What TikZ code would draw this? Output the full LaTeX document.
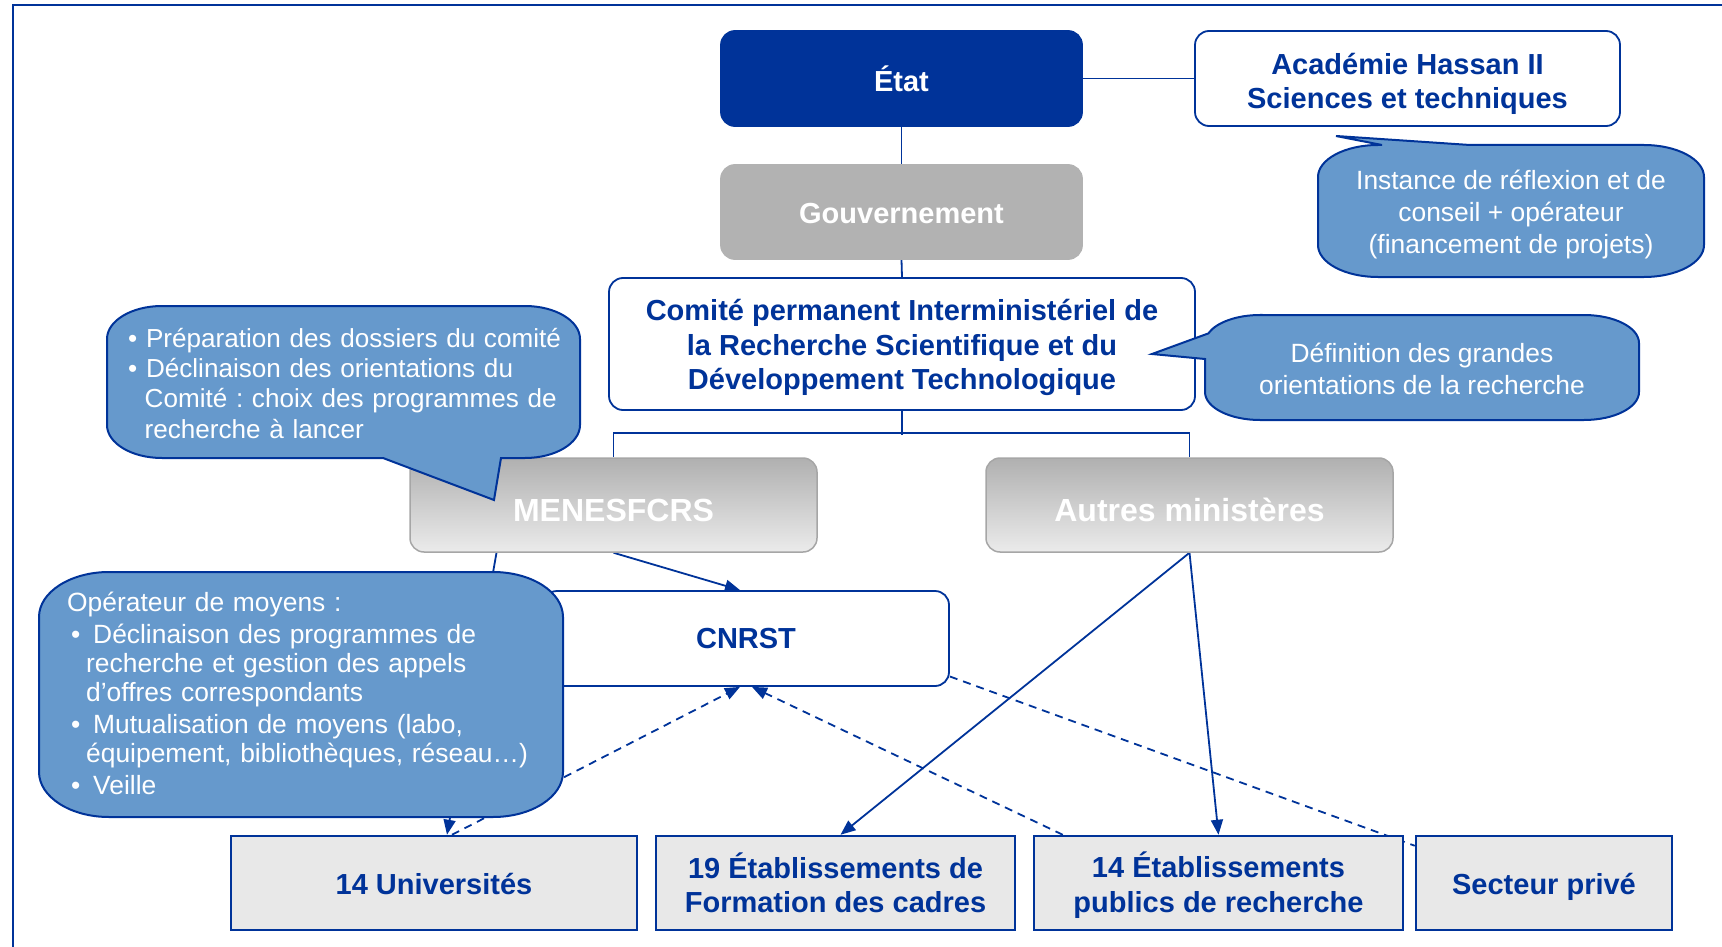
\documentclass[tikz,border=0pt]{standalone}
\usepackage{fontspec}
\setmainfont{Liberation Sans}
\usetikzlibrary{arrows.meta,calc}
\pgfdeclarelayer{background}
\pgfsetlayers{background,main}
\definecolor{blueD}{HTML}{003399}
\definecolor{callfill}{HTML}{6699CC}
\definecolor{grayA}{HTML}{B2B2B2}
\definecolor{grayTop}{HTML}{B0B0B0}
\definecolor{grayBot}{HTML}{EBEBEB}
\definecolor{grayEdge}{HTML}{A6A6A6}
\definecolor{boxGray}{HTML}{E8E8E8}
\newcommand\FBold{\fontsize{29}{34.5}\selectfont\bfseries}
\newcommand\FMin{\fontsize{32}{38}\selectfont\bfseries}
\newcommand\FCall{\fontsize{26.4}{31.8}\selectfont}
\newcommand\lift[1]{\rule{0pt}{#1pt}}
\frenchspacing
\begin{document}
\frenchspacing
\begin{tikzpicture}[x=1pt,y=1pt,
 rbox/.style={draw=blueD, line width=1.8pt, fill=white, rounded corners=14pt, text=blueD, font=\FBold, align=center, inner sep=0pt},
 sbox/.style={draw=blueD, line width=2.5pt, fill=boxGray, text=blueD, font=\FBold, align=center, inner sep=0pt, minimum height=94pt},
 minbox/.style={draw=grayEdge, line width=1.5pt, top color=grayTop, bottom color=grayBot, rounded corners=14pt, text=white, font=\FMin, inner sep=0pt, minimum width=407pt, minimum height=94pt},
 conn/.style={draw=blueD, line width=1.8pt},
 arr/.style={-{Triangle[length=15pt,width=12pt]}},
 dsh/.style={dash pattern=on 8pt off 6pt},
 callout/.style={fill=callfill, draw=blueD, line width=2pt},
 ctext/.style={text=white, font=\FCall, inner sep=0pt},
]
\useasboundingbox (0,0) rectangle (1722,-947);

% boxes
\node[rbox, fill=blueD, draw=blueD, text=white, minimum width=361pt, minimum height=95pt] (etat) at (901.5,-78.5) {État};
\node[rbox, minimum width=425pt, minimum height=95pt] (acad) at (1407.5,-78.5) {\lift{32.5}Académie Hassan II\\Sciences et techniques};
\node[rbox, fill=grayA, draw=grayA, text=white, minimum width=361pt, minimum height=94pt] (gouv) at (901.5,-212) {\lift{23}Gouvernement};
\node[rbox, minimum width=586pt, minimum height=132pt] (comite) at (902,-344) {\lift{28.5}Comité permanent Interministériel de\\la Recherche Scientifique et du\\Développement Technologique};
\node[minbox] (mene) at (613.5,-505) {\lift{34}MENESFCRS};
\node[minbox] (autres) at (1189.5,-505) {\lift{34}Autres ministères};
\node[rbox, minimum width=406pt, minimum height=95pt] (cnrst) at (746,-638.5) {CNRST};
\node[sbox, minimum width=406pt] (univ) at (434,-883) {\lift{23.5}14 Universités};
\node[sbox, minimum width=359pt] (etab19) at (835.5,-883) {19 Établissements de\\Formation des cadres};
\node[sbox, minimum width=369pt] (etab14) at (1218.5,-883) {\lift{30.5}14 Établissements\\publics de recherche};
\node[sbox, minimum width=256pt] (secteur) at (1544,-883) {\lift{28.5}Secteur privé};

% connectors
\begin{pgfonlayer}{background}
\draw[blueD, line width=2pt] (13,-947) -- (13,-5) -- (1722,-5);
\draw[conn] (etat.east) -- (acad.west);
\draw[conn] (etat.south) -- (gouv.north);
\draw[conn] (gouv.south) -- (comite.north);
\draw[conn] (comite.south) -- ++(0,-24);
\draw[conn] (mene.north) -- ++(0,24) -| (autres.north);
\draw[conn,arr] (mene.south) -- ($(cnrst.north)+(-6,0)$);
\draw[conn,arr] ($(mene.south)+(-117,0)$) -- ($(univ.north)+(13,0)$);
\draw[conn,dsh,arr] ($(univ.north)+(18,0)$) -- ($(cnrst.south)+(-6,0)$);
\draw[conn,dsh,arr] ($(etab14.north west)+(30,0)$) -- ($(cnrst.south)+(6,0)$);
\draw[conn,dsh] ($(cnrst.east)+(0,-38)$) -- ($(secteur.north west)+(0,-11)$);
\draw[conn,arr] (autres.south) -- ($(etab19.north)+(5,0)$);
\draw[conn,arr] (autres.south) -- (etab14.north);
\end{pgfonlayer}

% callouts
\filldraw[callout] (162,-306) -- (525,-306) arc[start angle=90,end angle=0,x radius=55,y radius=33]
  -- (580,-425) arc[start angle=0,end angle=-90,x radius=55,y radius=33]
  -- (501,-458) -- (494,-500) -- (383,-458)
  -- (162,-458) arc[start angle=270,end angle=180,x radius=55,y radius=33]
  -- (107,-339) arc[start angle=180,end angle=90,x radius=55,y radius=33] -- cycle;

\filldraw[callout] (1378,-145) -- (1382,-145) -- (1336,-136) -- (1470,-145)
  -- (1644,-145) arc[start angle=90,end angle=0,x radius=60,y radius=32]
  -- (1704,-245) arc[start angle=0,end angle=-90,x radius=60,y radius=32]
  -- (1378,-277) arc[start angle=270,end angle=180,x radius=60,y radius=32]
  -- (1318,-177) arc[start angle=180,end angle=90,x radius=60,y radius=32] -- cycle;

\filldraw[callout] (1260,-315) -- (1584,-315) arc[start angle=90,end angle=0,x radius=55,y radius=28]
  -- (1639,-392) arc[start angle=0,end angle=-90,x radius=55,y radius=28]
  -- (1260,-420) arc[start angle=270,end angle=180,x radius=55,y radius=28]
  -- (1205,-359) -- (1152,-354) -- (1208.32,-333.42)
  arc[start angle=160,end angle=90,x radius=55,y radius=28] -- cycle;

\filldraw[callout] (109,-572) -- (493,-572) arc[start angle=90,end angle=0,x radius=70,y radius=45]
  -- (563,-772) arc[start angle=0,end angle=-90,x radius=70,y radius=45]
  -- (109,-817) arc[start angle=270,end angle=180,x radius=70,y radius=45]
  -- (39,-617) arc[start angle=180,end angle=90,x radius=70,y radius=45] -- cycle;

% callout texts
\node[ctext, anchor=base west, text width=470pt, align=left, font=\fontsize{26.1}{30.2}\selectfont] (c1t) at (128,-347.5)
 {\textbullet\ Préparation des dossiers du comité\\
  \textbullet\ Déclinaison des orientations du\\
  \hspace*{16.5pt}Comité : choix des programmes de\\
  \hspace*{16.5pt}recherche à lancer};
\node[ctext, align=center] (c2t) at (1511,-214.8)
 {Instance de réflexion et de\\conseil + opérateur\\(financement de projets)};
\node[ctext, align=center, font=\fontsize{26.4}{32}\selectfont] (c3t) at (1422,-369.2)
 {Définition des grandes\\orientations de la recherche};
\node[ctext, anchor=base west, text width=480pt, align=left, font=\fontsize{26.4}{29}\selectfont] (c4t) at (67,-611.5)
 {Opérateur de moyens :\\[3pt]
  \hspace*{4pt}\makebox[22pt][l]{\textbullet}Déclinaison des programmes de\\
  \hspace*{19pt}recherche et gestion des appels\\
  \hspace*{19pt}d’offres correspondants\\[3pt]
  \hspace*{4pt}\makebox[22pt][l]{\textbullet}Mutualisation de moyens (labo,\\
  \hspace*{19pt}équipement, bibliothèques, réseau…)\\[3pt]
  \hspace*{4pt}\makebox[22pt][l]{\textbullet}Veille};
\end{tikzpicture}
\end{document}
